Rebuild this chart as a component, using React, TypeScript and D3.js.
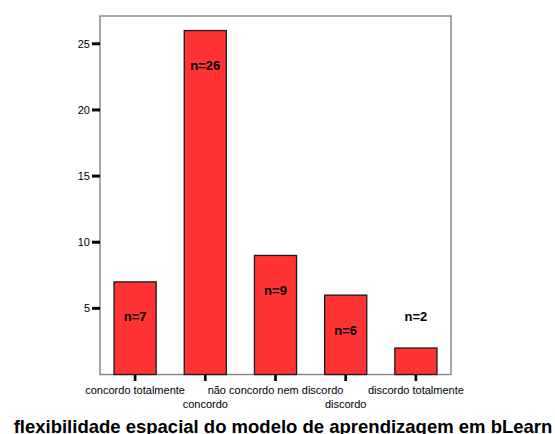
import React from "react";
import * as d3 from "d3";

const categories = [
  "concordo totalmente",
  "concordo",
  "não concordo nem discordo",
  "discordo",
  "discordo totalmente",
];
const counts = [7, 26, 9, 6, 2];
const yTicks = [5, 10, 15, 20, 25];
const title = "flexibilidade espacial do modelo de aprendizagem em bLearn";

const W = 555;
const H = 434;
const left = 100;
const right = 451;
const top = 16;
const bottom = 374.5;

export default function App() {
  const x = d3.scaleBand<string>().domain(categories).range([left, right]).padding(0.4).paddingOuter(0.2);
  const y = d3.scaleLinear().domain([0, 27.1]).range([bottom, top]);
  const font = "Arial, 'Liberation Sans', Helvetica, sans-serif";

  return (
    <svg
      width={W}
      height={H}
      style={{ position: "absolute", left: 0, top: 0, display: "block", background: "#fff" }}
      fontFamily={font}
    >
      <rect x={0} y={0} width={W} height={H} fill="#fff" />
      <rect x={left} y={top} width={right - left} height={bottom - top} fill="none" stroke="#8a8a8a" strokeWidth={1.5} />

      {categories.map((c, i) => {
        const x0 = x(c) as number;
        const yTop = y(counts[i]);
        return (
          <rect
            key={c}
            x={x0}
            y={yTop}
            width={x.bandwidth()}
            height={bottom - yTop}
            fill="#ff3333"
            stroke="#1a1a1a"
            strokeWidth={1.3}
          />
        );
      })}

      {categories.map((c, i) => {
        const cx = (x(c) as number) + x.bandwidth() / 2;
        const yTop = y(counts[i]);
        const inside = bottom - yTop > 45;
        const ty = inside ? yTop + 35 : yTop - 32;
        return (
          <text
            key={"n" + c}
            x={cx}
            y={ty}
            dy="0.35em"
            textAnchor="middle"
            fontWeight="bold"
            fontSize={13}
            fill="#000"
          >
            {"n=" + counts[i]}
          </text>
        );
      })}

      {yTicks.map((t) => (
        <g key={"y" + t}>
          <line x1={92} x2={100} y1={y(t)} y2={y(t)} stroke="#000" strokeWidth={3} />
          <text x={90} y={y(t)} dy="0.35em" textAnchor="end" fontSize={11} fill="#000">
            {t}
          </text>
        </g>
      ))}

      {categories.map((c, i) => {
        const cx = (x(c) as number) + x.bandwidth() / 2;
        const ly = i % 2 === 0 ? 394 : 408;
        return (
          <g key={"x" + c}>
            <line x1={cx} x2={cx} y1={bottom} y2={381} stroke="#000" strokeWidth={2.7} />
            <text x={cx} y={ly} textAnchor="middle" fontSize={11} fill="#000">
              {c}
            </text>
          </g>
        );
      })}

      <text x={283} y={433} textAnchor="middle" fontWeight="bold" fontSize={18.5} fill="#000">
        {title}
      </text>
    </svg>
  );
}
